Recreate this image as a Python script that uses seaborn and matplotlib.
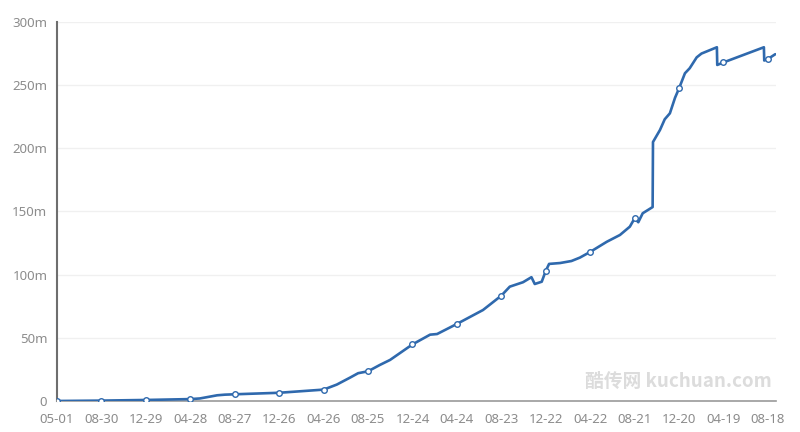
import matplotlib
matplotlib.use("Agg")
import matplotlib.pyplot as plt
import matplotlib.ticker as mticker
import seaborn as sns
import pandas as pd

# ---- data (values in millions) ----
dates = [
    "2015-05-01", "2015-08-30", "2015-12-29", "2016-04-28", "2016-05-24",
    "2016-07-10", "2016-07-31", "2016-08-27", "2016-12-26", "2017-04-26",
    "2017-06-01", "2017-07-07", "2017-07-29", "2017-08-25", "2017-09-26",
    "2017-10-24", "2017-12-24", "2018-02-10", "2018-03-01", "2018-04-24",
    "2018-07-04", "2018-08-23", "2018-09-15", "2018-10-21", "2018-11-13",
    "2018-11-22", "2018-12-11", "2018-12-22", "2018-12-31", "2019-01-30",
    "2019-03-02", "2019-03-25", "2019-04-22", "2019-06-06", "2019-07-12",
    "2019-08-08", "2019-08-21", "2019-08-31", "2019-09-12", "2019-10-09",
    "2019-10-10", "2019-10-29", "2019-11-11", "2019-11-25", "2019-12-09",
    "2019-12-20", "2020-01-05", "2020-01-18", "2020-02-06", "2020-02-19",
    "2020-04-01", "2020-04-02", "2020-04-19", "2020-08-07", "2020-08-08",
    "2020-08-18", "2020-09-07",
]
values = [
    0.0, 0.3, 0.8, 1.5, 2.0,
    4.5, 5.0, 5.3, 6.5, 9.0,
    13.0, 18.5, 22.0, 23.5, 28.5,
    32.5, 44.8, 52.5, 53.0, 61.0,
    72.0, 83.4, 90.5, 94.0, 98.0,
    92.6, 94.4, 103.0, 108.5, 109.2,
    110.8, 113.5, 118.0, 126.0, 131.4,
    138.0, 144.6, 141.5, 148.6, 153.5,
    205.0, 214.5, 223.0, 227.7, 240.0,
    247.5, 259.4, 263.4, 272.0, 275.0,
    280.0, 266.0, 268.0, 280.0, 269.5,
    270.7, 274.5,
]
tick_dates = [
    "2015-05-01", "2015-08-30", "2015-12-29", "2016-04-28", "2016-08-27",
    "2016-12-26", "2017-04-26", "2017-08-25", "2017-12-24", "2018-04-24",
    "2018-08-23", "2018-12-22", "2019-04-22", "2019-08-21", "2019-12-20",
    "2020-04-19", "2020-08-18",
]
y_ticks = [0, 50, 100, 150, 200, 250, 300]

df = pd.DataFrame({"date": pd.to_datetime(dates), "value": values})
ticks = pd.to_datetime(tick_dates)
mark_idx = [i for i, d in enumerate(df["date"]) if d in set(ticks)]

sns.set_theme(style="white")
plt.rcParams["font.family"] = ["Noto Sans", "Noto Sans CJK SC", "DejaVu Sans"]

fig = plt.figure(figsize=(8, 4.32), dpi=100)
ax = fig.add_axes([0.0713, 0.0718, 0.8987, 0.8773])

line_color = "#2f69ad"
sns.lineplot(data=df, x="date", y="value", ax=ax, color=line_color,
             linewidth=1.9, estimator=None, marker="o", markevery=mark_idx,
             markersize=4, markerfacecolor="white",
             markeredgecolor=line_color, markeredgewidth=1.0, zorder=3)

ax.set_xlim(df["date"].iloc[0], df["date"].iloc[-1] + pd.Timedelta(days=2))
ax.set_ylim(0, 300)
ax.set_xticks(ticks)
ax.set_xticklabels([t.strftime("%m-%d") for t in ticks])
ax.set_yticks(y_ticks)
ax.yaxis.set_major_formatter(mticker.FuncFormatter(
    lambda v, p: "0" if v == 0 else f"{int(v)}m"))

ax.set_xlabel("")
ax.set_ylabel("")
ax.grid(axis="y", color="#f0f0f0", linewidth=1)
ax.grid(axis="x", visible=False)
for s in ["top", "right"]:
    ax.spines[s].set_visible(False)
ax.spines["left"].set_color("#6e6e6e")
ax.spines["left"].set_linewidth(1.5)
ax.spines["bottom"].set_color("#9a9a9a")
ax.spines["bottom"].set_linewidth(1.2)
ax.tick_params(axis="both", length=0, labelsize=9.5, colors="#8c8c8c")
ax.tick_params(axis="x", pad=9)
ax.tick_params(axis="y", pad=7)

fig.text(0.965, 0.118, "酷传网 kuchuan.com", ha="right", va="center",
         fontsize=13.5, fontweight="bold", color="#dcdcdc",
         family=["Noto Sans CJK SC", "DejaVu Sans"])

fig.savefig("out.png", dpi=100)
